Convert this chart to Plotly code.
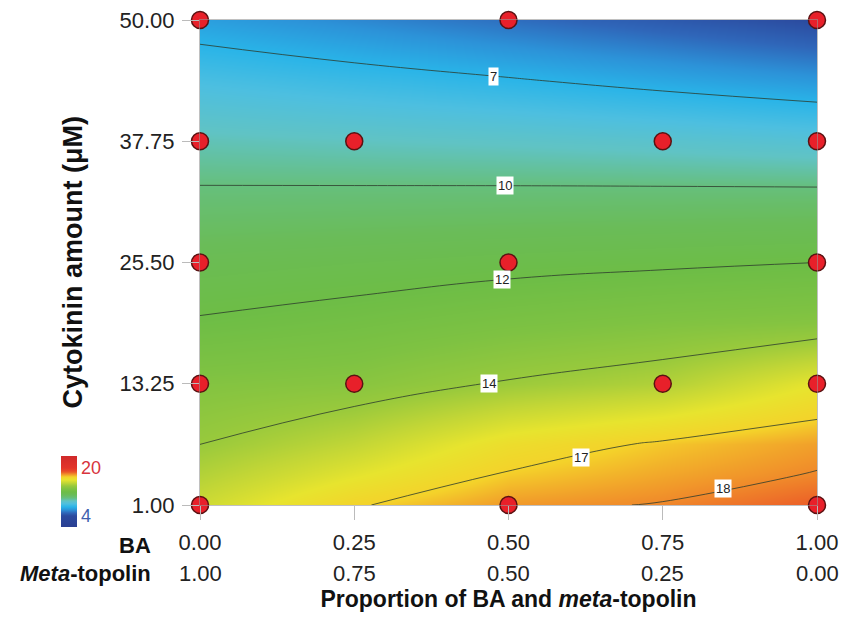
import numpy as np
import plotly.graph_objects as go

# ---------------- data ----------------
ba_prop = [0.0, 0.25, 0.5, 0.75, 1.0]
ba_labels = ["0.00", "0.25", "0.50", "0.75", "1.00"]
mt_labels = ["1.00", "0.75", "0.50", "0.25", "0.00"]
cyto_ticks = [1.0, 13.25, 25.5, 37.75, 50.0]
cyto_tick_labels = ["1.00", "13.25", "25.50", "37.75", "50.00"]

# response surface, one list per BA proportion (bottom -> top)
cyto_grid = [1.0, 4.0625, 7.125, 13.25, 19.375, 25.5, 31.625, 37.75, 43.875, 50.0]
resp_ba000 = [15.3, 14.65, 14.0, 13.2, 12.1, 11.3, 10.3, 9.2, 7.9, 6.4]
resp_ba025 = [16.9, 15.9, 15.0, 13.4, 12.4, 11.5, 10.35, 9.05, 7.5, 5.8]
resp_ba050 = [17.8, 17.1, 16.4, 14.1, 12.8, 11.7, 10.4, 8.9, 7.1, 5.2]
resp_ba075 = [18.05, 17.6, 17.15, 14.6, 13.1, 11.85, 10.45, 8.7, 6.65, 4.6]
resp_ba100 = [18.6, 18.05, 17.7, 16.0, 13.3, 12.0, 10.5, 8.45, 6.2, 4.0]

contour_levels = [7, 10, 12, 14, 17, 18]

# experimental design points
design_ba = [0.0, 0.5, 1.0, 0.0, 0.25, 0.75, 1.0, 0.0, 0.5, 1.0, 0.0, 0.25, 0.75, 1.0, 0.0, 0.5, 1.0]
design_cyto = [50.0, 50.0, 50.0, 37.75, 37.75, 37.75, 37.75, 25.5, 25.5, 25.5,
               13.25, 13.25, 13.25, 13.25, 1.0, 1.0, 1.0]

# ---------------- style ----------------
label_x = {7: 0.475, 10: 0.494, 12: 0.49, 14: 0.468, 17: 0.617, 18: 0.848}
FONT = "Liberation Sans, Arial, sans-serif"
ZMIN, ZMAX = 0.3, 24.0
color_stops = [
    (0.3, "#2a3f92"), (4, "#2b4a9e"), (5, "#2f66b9"), (6, "#2c92d8"),
    (7, "#29b4e8"), (8, "#4dbfe0"), (9, "#60c3c4"), (10, "#66bf7c"),
    (11, "#6abc58"), (12, "#6dbd46"), (13, "#7ec242"), (14, "#98c93c"),
    (15, "#c2d636"), (16, "#e7e42e"), (17, "#f4d22a"), (18, "#f08a2a"),
    (18.5, "#ec6428"), (19, "#e84a28"), (20, "#e3352a"), (24, "#d02a2a"),
]
colorscale = [[(v - ZMIN) / (ZMAX - ZMIN), c] for v, c in color_stops]

z = np.array([resp_ba000, resp_ba025, resp_ba050, resp_ba075, resp_ba100]).T

fig = go.Figure()
fig.add_trace(go.Heatmap(
    x=ba_prop, y=cyto_grid, z=z, zsmooth="best", zmin=ZMIN, zmax=ZMAX,
    colorscale=colorscale, hoverinfo="skip",
    colorbar=dict(
        x=-0.2253, xanchor="left", xpad=0, ypad=0,
        y=(505 - 491.5) / 485, yanchor="middle",
        thickness=16, thicknessmode="pixels", len=71, lenmode="pixels",
        tickvals=[4, 20],
        ticktext=['<span style="color:#3f5fae">4</span>',
                  '<span style="color:#d8343c">20</span>'],
        ticks="", outlinewidth=0,
        tickfont=dict(family=FONT, size=18),
    ),
))

for lev in contour_levels:
    fig.add_trace(go.Contour(
        x=ba_prop, y=cyto_grid, z=z,
        contours=dict(start=lev, end=lev, size=1, coloring="none"),
        line=dict(color="rgba(45,60,45,0.8)", width=1, smoothing=1.3),
        showscale=False, hoverinfo="skip",
    ))

fig.add_trace(go.Scatter(
    x=design_ba, y=design_cyto, mode="markers", cliponaxis=False,
    marker=dict(size=17, color="#e8202a", line=dict(color="#5a1212", width=1.5)),
    hoverinfo="skip", showlegend=False,
))

# contour labels placed on the lines
annotations = []
for lev in contour_levels:
    lx = label_x[lev]
    prof = np.array([np.interp(lx, ba_prop, row) for row in z])
    ly = float(np.interp(lev, prof[::-1], np.array(cyto_grid)[::-1]))
    annotations.append(dict(
        x=lx, y=ly, xref="x", yref="y", text=str(lev), showarrow=False,
        bgcolor="white", borderpad=1, font=dict(family=FONT, size=13, color="#222"),
    ))

# second row of x labels (meta-topolin proportion)
for xv, t in zip(ba_prop, mt_labels):
    annotations.append(dict(
        x=xv, y=0, xref="x", yref="paper", yanchor="middle", yshift=-68,
        text=t, showarrow=False, font=dict(family=FONT, size=22, color="#222"),
    ))
row_x = (153 - 200) / 617
annotations.append(dict(
    x=row_x, y=0, xref="paper", yref="paper", xanchor="right", yanchor="middle",
    text="<b>BA</b>", showarrow=False, yshift=-40,
    font=dict(family=FONT, size=22, color="#111"),
))
annotations.append(dict(
    x=row_x, y=0, xref="paper", yref="paper", xanchor="right", yanchor="middle",
    text="<b><i>Meta</i>-topolin</b>", showarrow=False, yshift=-68,
    font=dict(family=FONT, size=22, color="#111"),
))
# y-axis title
annotations.append(dict(
    x=(72 - 200) / 617, y=0.5, xref="paper", yref="paper",
    xanchor="center", yanchor="middle", textangle=-90, showarrow=False,
    text="<b>Cytokinin amount (μM)</b>",
    font=dict(family=FONT, size=27, color="#111"),
))

fig.update_layout(
    width=841, height=639,
    margin=dict(l=200, r=24, t=20, b=134),
    paper_bgcolor="white", plot_bgcolor="white",
    showlegend=False,
    annotations=annotations,
    xaxis=dict(
        range=[0, 1], tickvals=ba_prop, ticktext=ba_labels, automargin=False,
        ticks="outside", ticklen=14, tickcolor="#bbbbbb", tickwidth=1,
        ticklabelstandoff=4,
        showgrid=False, zeroline=False,
        showline=True, linecolor="rgba(150,150,150,0.6)", linewidth=1, mirror=True,
        tickfont=dict(family=FONT, size=22, color="#222"),
        title=dict(text="<b>Proportion of BA and <i>meta</i>-topolin</b>",
                   font=dict(family=FONT, size=23, color="#111"), standoff=36),
    ),
    yaxis=dict(
        range=[1, 50], tickvals=cyto_ticks, ticktext=cyto_tick_labels, automargin=False,
        ticks="outside", ticklen=17, tickcolor="#bbbbbb", tickwidth=1,
        ticklabelstandoff=3,
        showgrid=False, zeroline=False,
        showline=True, linecolor="rgba(150,150,150,0.6)", linewidth=1, mirror=True,
        tickfont=dict(family=FONT, size=22, color="#222"),
    ),
)

fig.write_html("out.html")
